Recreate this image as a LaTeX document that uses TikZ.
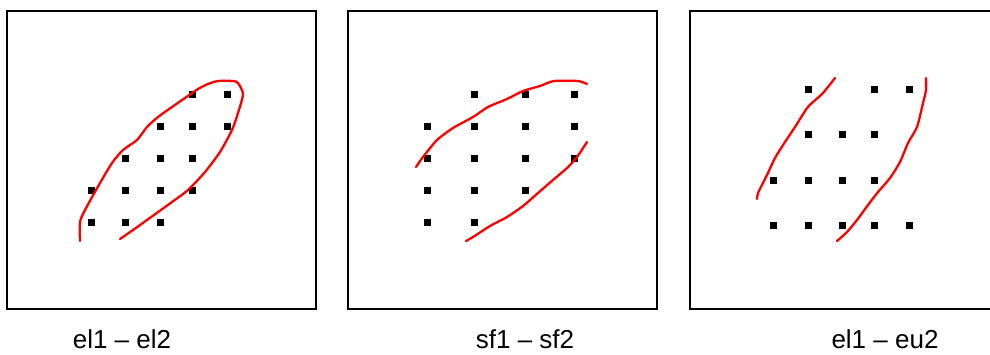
\documentclass[tikz,border=0pt]{standalone}
\usepackage{fontspec}
\setmainfont{Liberation Sans}
\begin{document}
\begin{tikzpicture}[x=1pt, y=-1pt,
    marco/.style={line width=2pt},
    curva/.style={red, line width=2.3pt, line cap=round, line join=round},
    etiqueta/.style={anchor=base, inner sep=0pt, font=\fontsize{26}{30}\selectfont}]
  \useasboundingbox (0,0) rectangle (990,354);
  % Marcos
  \draw[marco] (7,11) rectangle (316,309);
  \draw[marco] (348,11) rectangle (657,309);
  \draw[marco] (690,11) rectangle (1000,309);

  % Puntos el1 - el2
  \foreach \x/\y in {192/94, 227/94, 160/126, 192/126, 227/126,
                     125/158, 160/158, 192/158, 91/190, 125/190, 160/190, 192/190,
                     91/222, 125/222, 160/222}
    \fill (\x-3.5,\y-3.5) rectangle ++(7,7);
  % Puntos sf1 - sf2
  \foreach \x/\y in {474/94, 525/94, 574/94, 427/126, 474/126, 525/126, 574/126,
                     427/158, 474/158, 525/158, 574/158, 427/190, 474/190, 525/190,
                     427/222, 474/222}
    \fill (\x-3.5,\y-3.5) rectangle ++(7,7);
  % Puntos el1 - eu2
  \foreach \x/\y in {808/89, 874/89, 909/89, 808/134, 842/134, 874/134,
                     773/180, 808/180, 842/180, 874/180,
                     773/225, 808/225, 842/225, 874/225, 909/225}
    \fill (\x-3.5,\y-3.5) rectangle ++(7,7);

  % Curvas
  \draw[curva] plot[smooth, tension=0.4] coordinates {(80,241) (80,222) (85,210) (100,183)
    (112,163) (123,150) (137,140) (147,127) (158,117) (172,107) (185,98) (198,89) (208,84)
    (218,81) (233,81) (238,83) (243,94) (238,113) (232,130) (220,152) (205,172) (188,190)
    (172,202) (147,220) (133,230) (120,239)};
  \draw[curva] plot[smooth, tension=0.4] coordinates {(416,167) (423,157) (437,140) (453,128)
    (473,117) (488,107) (507,99) (523,91) (540,86) (554,81) (578,81) (587,84)};
  \draw[curva] plot[smooth, tension=0.4] coordinates {(587,142) (577,157) (567,168) (553,180)
    (538,193) (523,206) (507,217) (490,226) (473,237) (466,241)};
  \draw[curva] plot[smooth, tension=0.4] coordinates {(757,199) (758,193) (767,175) (775,158)
    (785,142) (795,127) (807,108) (813,102) (823,93) (835,78)};
  \draw[curva] plot[smooth, tension=0.4] coordinates {(926,78) (926,90) (923,103) (917,127)
    (908,143) (900,162) (890,178) (878,192) (868,205) (857,220) (847,232) (837,241)};

  % Etiquetas
  \node[etiqueta] (lab1) at (122,348) {el1 -- el2};
  \node[etiqueta] (lab2) at (525,348) {sf1 -- sf2};
  \node[etiqueta] (lab3) at (885,348) {el1 -- eu2};
\end{tikzpicture}
\end{document}
